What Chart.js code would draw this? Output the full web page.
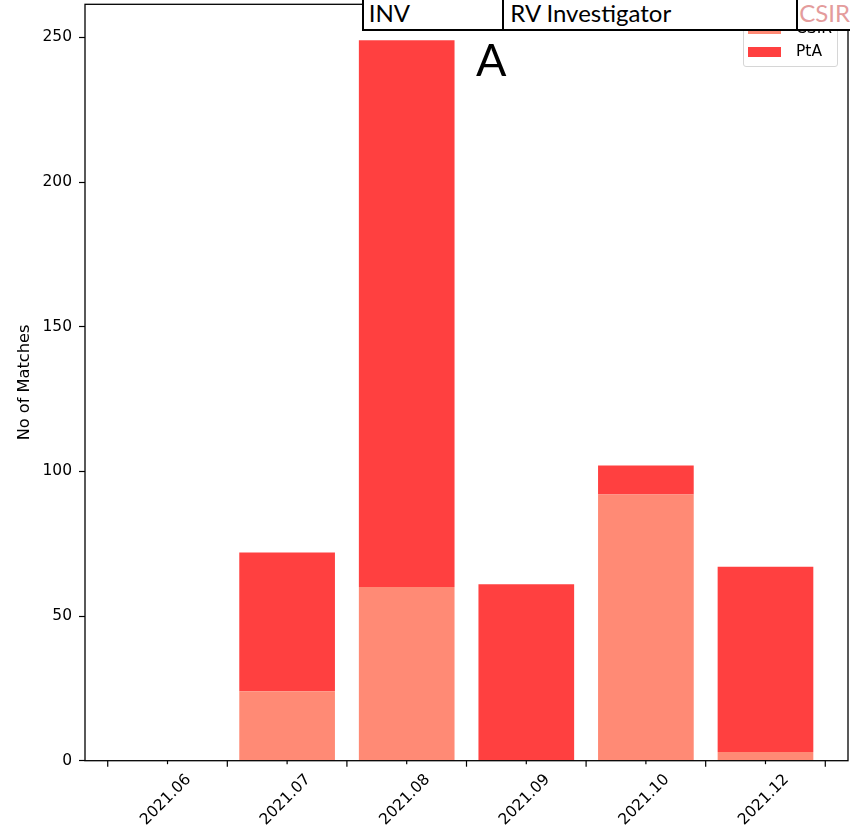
<!DOCTYPE html>
<html>
<head>
<meta charset="utf-8">
<script src="https://cdn.jsdelivr.net/npm/chart.js@4"></script>
<style>
  body { margin: 0; background: #fff; }
  #wrap { position: relative; width: 850px; height: 832px; overflow: hidden; }
  #chart { position: absolute; left: 0; top: 0; }

  .legend {
    position: absolute; left: 743px; top: 12px; width: 95px; height: 55px;
    box-sizing: border-box; border: 1px solid #d6d6d6; border-radius: 3px;
    background: rgba(255,255,255,.8);
    font: 15.5px "DejaVu Sans", sans-serif; color: #000;
  }
  .legend .row { position: absolute; left: 4px; height: 10px; }
  .legend .swatch { position: absolute; left: 0; top: 0; width: 33px; height: 10px; }
  .legend .txt { position: absolute; left: 48px; top: -5px; line-height: 18px; white-space: nowrap; }

  .panel-label {
    position: absolute; left: 476px; top: 32px;
    font: 45px Lato, sans-serif; line-height: 54px; color: #000;
  }

  .cell {
    position: absolute; top: -6px; height: 36.5px; box-sizing: border-box;
    border: 2px solid #000; background: #fff;
  }
  .cell span {
    position: absolute; top: 2.5px; white-space: nowrap;
    font: 24px Lato, sans-serif; line-height: 28.8px; color: #000;
  }
</style>
</head>
<body>
<div id="wrap">
  <canvas id="chart" width="850" height="832"></canvas>
  <div id="legend" class="legend"></div>
  <div class="panel-label">A</div>
  <div class="cell" style="left:361.7px; width:143px;"><span style="left:5px;">INV</span></div>
  <div class="cell" style="left:502.3px; width:295.4px;"><span style="left:6px;">RV Investigator</span></div>
  <div class="cell" style="left:795.7px; width:120px;"><span style="left:1.5px; color:#E49C9C;">CSIR</span></div>
</div>
<script>
// ── Data ───────────────────────────────────────────────────────────────────

const CATEGORIES   = ['2021.06', '2021.07', '2021.08', '2021.09', '2021.10', '2021.12'];
const CSIR_COUNTS  = [0, 24, 60, 0, 92, 3];
const PTA_COUNTS   = [0, 48, 189, 61, 10, 64];
const SERIES_NAMES = ['CSIR', 'PtA'];
const SERIES_COLORS = ['#FF8A75', '#FF4040'];
const Y_MAX  = 261.45;
const Y_STEP = 50;

// ── Helpers ────────────────────────────────────────────────────────────────

const points = arr => arr.map((v, i) => ({ x: i, y: v }));
const isWhole = v => Math.abs(v - Math.round(v)) < 1e-6;

// frame + x ticks (long at bar edges, short under each label)
const axesPlugin = {
  id: 'axesFrame',
  afterDraw(chart) {
    const { ctx, chartArea: a, scales } = chart;
    ctx.save();
    ctx.strokeStyle = '#000';
    ctx.lineWidth = 1.2;
    scales.x.ticks.forEach(t => {
      const px = scales.x.getPixelForValue(t.value);
      const len = isWhole(t.value) ? 3.5 : 6;
      ctx.beginPath();
      ctx.moveTo(px, a.bottom);
      ctx.lineTo(px, a.bottom + len);
      ctx.stroke();
    });
    ctx.lineWidth = 1.3;
    ctx.strokeRect(a.left, a.top, a.right - a.left, a.bottom - a.top);
    ctx.restore();
  },
};

function renderLegend() {
  const el = document.getElementById('legend');
  el.innerHTML = SERIES_NAMES.map((name, i) => `
    <div class="row" style="top:${11 + i * 23}px">
      <div class="swatch" style="background:${SERIES_COLORS[i]}"></div>
      <span class="txt">${name}</span>
    </div>`).join('');
}

// ── Chart ──────────────────────────────────────────────────────────────────

const tickFont = { family: 'DejaVu Sans', size: 15.5 };

new Chart(document.getElementById('chart').getContext('2d'), {
  type: 'bar',
  data: {
    datasets: [
      { label: SERIES_NAMES[0], data: points(CSIR_COUNTS), backgroundColor: SERIES_COLORS[0], borderWidth: 0 },
      { label: SERIES_NAMES[1], data: points(PTA_COUNTS),  backgroundColor: SERIES_COLORS[1], borderWidth: 0 },
    ],
  },
  options: {
    responsive: false,
    animation: false,
    // ticks every 0.5 → ruler spacing is half a category, so 2 × 0.8 gives 0.8-wide bars
    datasets: { bar: { barPercentage: 0.8, categoryPercentage: 2.0 } },
    layout: { padding: { top: 4.3, right: 2, left: 0, bottom: 0 } },
    plugins: { legend: { display: false }, tooltip: { enabled: false } },
    scales: {
      x: {
        type: 'linear', stacked: true, offset: false,
        min: -0.69, max: 5.69,
        grid: { display: false, drawTicks: false, offset: false },
        border: { display: false },
        afterFit: s => { s.height = 71.3; s.paddingLeft = 0; s.paddingRight = 0; },
        ticks: {
          stepSize: 0.5, includeBounds: false, autoSkip: false,
          minRotation: 45, maxRotation: 45,
          labelOffset: 21, padding: 10,
          color: '#000', font: tickFont,
          callback: v => isWhole(v) ? (CATEGORIES[Math.round(v)] ?? '') : '',
        },
      },
      y: {
        stacked: true,
        min: 0, max: Y_MAX,
        grid: { drawOnChartArea: false, tickLength: 6, tickColor: '#000', tickWidth: 1.2 },
        border: { display: false },
        afterFit: s => { s.width = 85; s.paddingTop = 0; s.paddingBottom = 0; },
        ticks: { stepSize: Y_STEP, includeBounds: false, padding: 7, color: '#000', font: tickFont },
        title: {
          display: true, text: 'No of Matches', color: '#000',
          font: { family: 'DejaVu Sans', size: 16.2 }, padding: { top: 15.5, bottom: 0 },
        },
      },
    },
  },
  plugins: [axesPlugin],
});

renderLegend();
</script>
</body>
</html>
